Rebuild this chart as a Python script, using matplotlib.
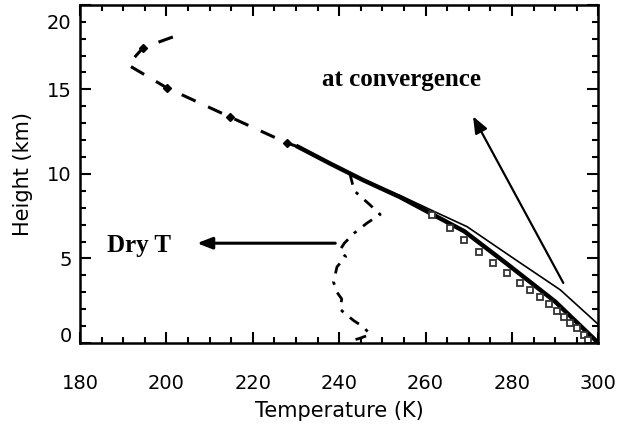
import matplotlib
matplotlib.use("Agg")
import matplotlib.pyplot as plt
import matplotlib.transforms as mtransforms
from matplotlib.ticker import MultipleLocator

# ---- data ----
# upper dashed profile (above ~12 km)
dash_T = [201.5, 194.6, 191.1, 200.1, 214.7, 227.9, 230.5]
dash_H = [18.1, 17.46, 16.45, 15.09, 13.37, 11.83, 11.6]
# symbols on the dashed profile
dsym_T = [194.6, 200.1, 214.7, 227.9]
dsym_H = [17.46, 15.09, 13.37, 11.83]

# thick solid profile
thick_T = [230.5, 238.0, 245.5, 254.0, 261.0, 269.0, 279.0, 290.0, 300.0]
thick_H = [11.6, 10.6, 9.64, 8.64, 7.69, 6.60, 4.65, 2.45, 0.0]

# thin solid profile (at convergence)
thin_T = [245.5, 254.3, 261.8, 269.6, 280.4, 291.2, 300.0]
thin_H = [9.64, 8.70, 7.80, 6.88, 5.00, 3.14, 1.10]

# square symbols (first guess near surface)
sq_T = [261.5, 265.7, 268.8, 272.3, 275.7, 278.8, 281.9, 284.2, 286.6,
        288.5, 290.4, 292.0, 293.5, 295.1, 296.6, 297.7]
sq_H = [7.55, 6.78, 6.10, 5.38, 4.74, 4.12, 3.52, 3.12, 2.71,
        2.31, 1.91, 1.51, 1.20, 0.90, 0.50, 0.20]

# dry temperature (dash-dot)
dry_T = [242.5, 243.5, 247.0, 249.5, 246.5, 243.5, 241.2, 240.2, 241.5,
         239.5, 238.7, 239.5, 240.6, 240.2, 242.0, 243.5, 245.6, 247.2,
         244.5, 242.0]
dry_H = [10.0, 9.0, 8.2, 7.6, 7.1, 6.5, 5.9, 5.5, 5.1,
         4.5, 3.6, 3.0, 2.6, 2.0, 1.6, 1.3, 0.95, 0.5,
         0.25, 0.1]

x_ticks = [180, 200, 220, 240, 260, 280, 300]
y_ticks = [0, 5, 10, 15, 20]

# ---- figure ----
fig = plt.figure(figsize=(6.2, 4.38), dpi=100)
ax = fig.add_axes([0.129, 0.217, 0.836, 0.772])

ax.plot(dash_T, dash_H, color="black", lw=2.2, ls=(0, (5, 4.5)))
ax.plot(dsym_T, dsym_H, ls="none", marker="D", ms=4, color="black")
ax.plot(thin_T, thin_H, color="black", lw=1.2)
ax.plot(thick_T, thick_H, color="black", lw=3.2)
ax.plot(sq_T, sq_H, ls="none", marker="s", ms=5, mfc="white",
        mec="#333333", mew=1.3)
ax.plot(dry_T, dry_H, color="black", lw=2.0, ls=(0, (4, 3, 1.2, 3)))

# arrows and annotations
ax.annotate("", xy=(207.1, 5.9), xytext=(239.1, 5.9),
            arrowprops=dict(arrowstyle="-|>,head_length=0.9,head_width=0.35",
                            color="black", lw=2.2, shrinkA=0, shrinkB=0))
ax.text(193.6, 5.75, "Dry T", family="Liberation Serif", weight="bold",
        fontsize=18, ha="center", va="center")

ax.annotate("", xy=(271.0, 13.4), xytext=(291.9, 3.55),
            arrowprops=dict(arrowstyle="-|>,head_length=1.0,head_width=0.4",
                            color="black", lw=1.6, shrinkA=0, shrinkB=0))
ax.text(254.4, 15.6, "at convergence", family="Liberation Serif",
        weight="bold", fontsize=18, ha="center", va="center")

# axes styling
ax.set_xlim(180, 300)
ax.set_ylim(0, 20)
ax.set_xticks(x_ticks)
ax.set_yticks(y_ticks)
ax.xaxis.set_minor_locator(MultipleLocator(5))
ax.yaxis.set_minor_locator(MultipleLocator(1))
ax.tick_params(which="both", direction="in", top=True, right=True,
               width=1.5, labelsize=14)
ax.tick_params(which="major", length=8)
ax.tick_params(which="minor", length=4)
ax.tick_params(axis="x", which="major", pad=22)
ax.tick_params(axis="y", which="major", pad=6)
for s in ax.spines.values():
    s.set_linewidth(1.8)

ax.set_xlabel("Temperature (K)", fontsize=15, labelpad=6)
ax.set_ylabel("Height (km)", fontsize=15, labelpad=10)

# shift the end labels of the y axis inside the frame, as in the reference
ylabels = ax.get_yticklabels()
ylabels[0].set_transform(ylabels[0].get_transform() +
                         mtransforms.ScaledTranslation(0, 6 / 72, fig.dpi_scale_trans))
ylabels[-1].set_transform(ylabels[-1].get_transform() +
                          mtransforms.ScaledTranslation(0, -12 / 72, fig.dpi_scale_trans))

fig.savefig("out.png", dpi=100)
